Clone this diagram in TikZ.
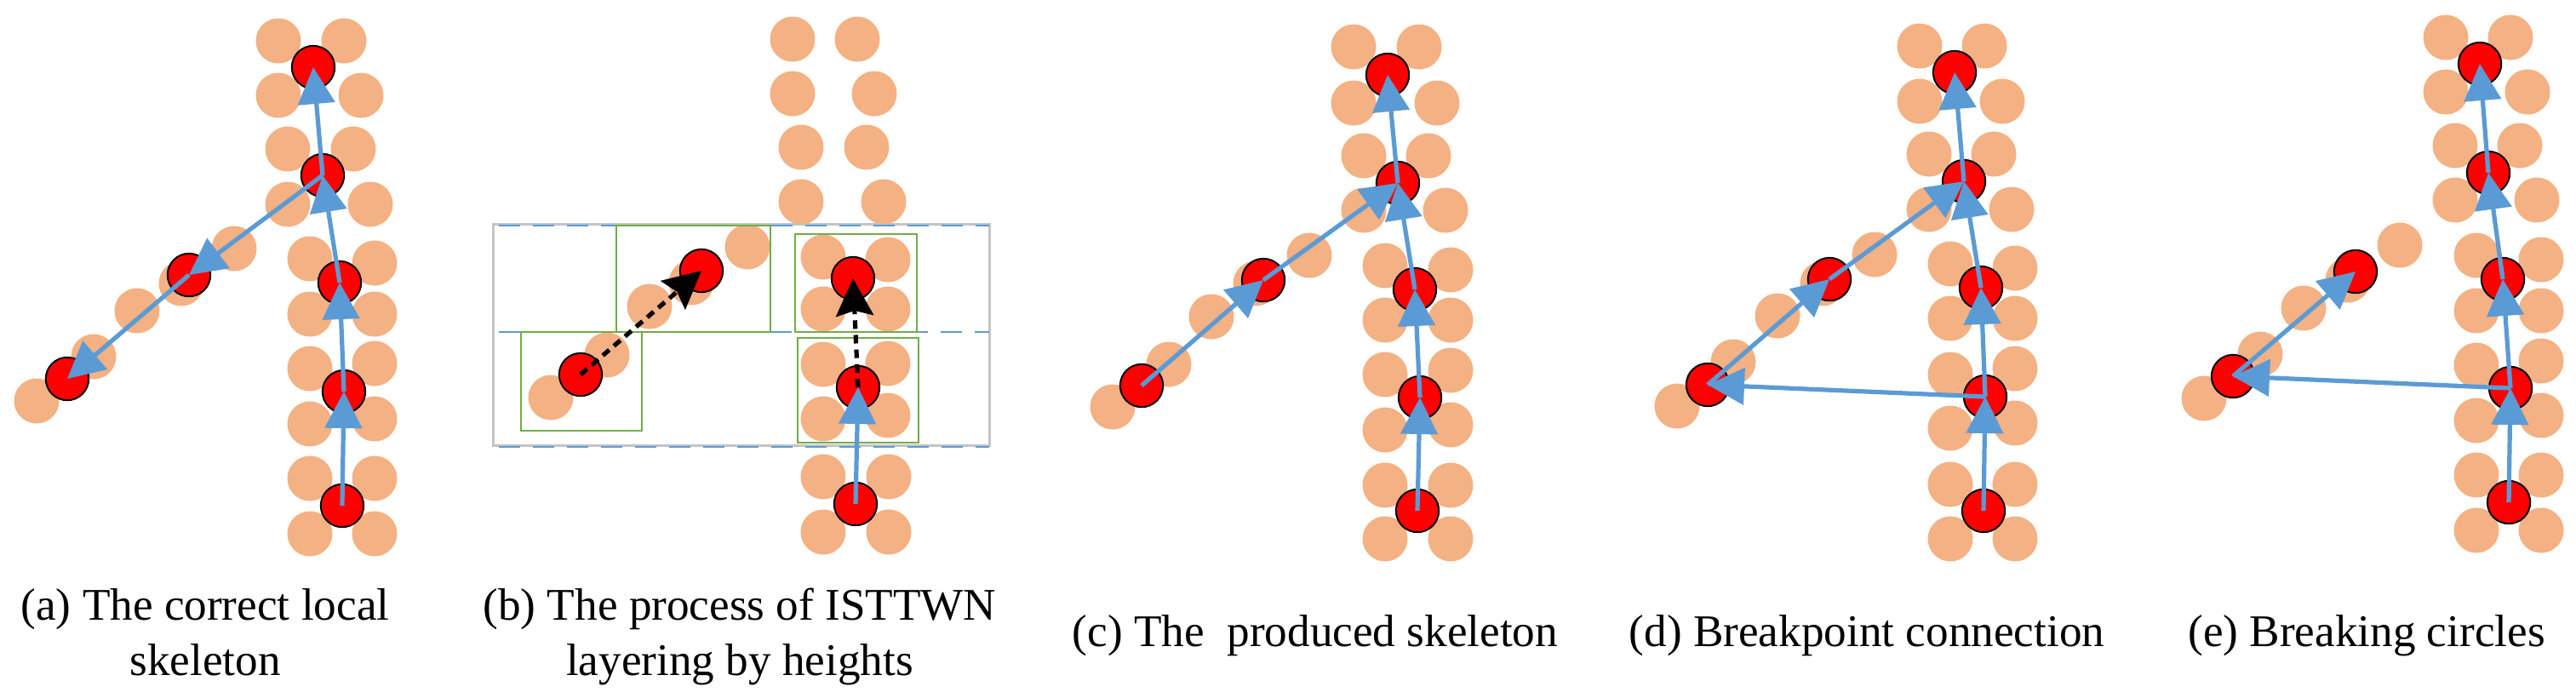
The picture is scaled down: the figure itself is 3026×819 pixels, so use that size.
\documentclass[tikz,border=0pt]{standalone}
\usepackage{fontspec}
\setmainfont{Liberation Serif}
\usetikzlibrary{arrows.meta}
\definecolor{dotorange}{HTML}{F4B183}
\definecolor{skblue}{HTML}{5B9BD5}
\definecolor{boxgreen}{HTML}{70AD47}
\definecolor{framegray}{HTML}{C4C4C4}
\begin{document}
\begin{tikzpicture}[x=0.25pt,y=-0.25pt,
  odot/.style={circle,fill=dotorange,minimum size=13.25pt,inner sep=0pt},
  rdot/.style={circle,fill=red,draw=black,line width=0.5pt,minimum size=12.6pt,inner sep=0pt},
  sk/.style={draw=skblue,line width=1.3pt,-{Triangle[length=10.75pt,width=10.75pt]}},
  blk/.style={draw=black,line width=1.3pt,dash pattern=on 2.5pt off 1.8pt,-{Stealth[length=11pt,width=11pt,inset=1.5pt]}},
  gbox/.style={draw=boxgreen,line width=0.65pt},
  layer/.style={draw=skblue,line width=0.65pt,dash pattern=on 6.25pt off 3.75pt},
  framebox/.style={draw=framegray,line width=0.75pt},
  captext/.style={anchor=base,inner sep=0pt,font=\fontsize{13.3}{16}\selectfont}
]
\useasboundingbox (0,0) rectangle (3026,819);

% ---------------- panel (a) ----------------
\foreach \x/\y [count=\i] in {327/48,404/48,327/112,424/112,338/175,415/175,338/240,435/240,
  364/304,440/309,364/369,440/369,364/433,440/427,364/498,440/492,364/562,440/562,364/627,440/627,
  275/292,213/333,161/365,110/419,43/471}
  {\node[odot] (ao\i) at (\x,\y) {};}
\node[rdot] (ar1) at (368,79) {};
\node[rdot] (ar2) at (379,206) {};
\node[rdot] (ar3) at (399,332) {};
\node[rdot] (ar4) at (404,460) {};
\node[rdot] (ar5) at (402,594) {};
\node[rdot] (ab1) at (222,323) {};
\node[rdot] (ab2) at (79,445) {};
\draw[sk] (ar5.center) -- (ar4.center);
\draw[sk] (ar4.center) -- (ar3.center);
\draw[sk] (ar3.center) -- (ar2.center);
\draw[sk] (ar2.center) -- (ar1.center);
\draw[sk] (ar2.center) -- (ab1.center);
\draw[sk] (ab1.center) -- (ab2.center);

% ---------------- panel (b) ----------------
\draw[framebox] (579,263) rectangle (1162,523);
\draw[layer] (586,265) -- (1162,265);
\draw[layer] (586,525) -- (1162,525);
\draw[draw=skblue,line width=0.65pt] (586,390) -- (724,390);
\draw[layer] (905,390) -- (1162,390);
\foreach \x/\y [count=\i] in {931/46,1007/46,931/110,1027/110,941/173,1018/173,941/237,1038/237,
  878/290,763/360,713/417,647/467,812/332,
  967/302,1043/305,967/363,1043/363,967/428,1043/427,967/492,1043/488,967/560,1044/560,967/625,1044/625}
  {\node[odot] (bo\i) at (\x,\y) {};}
\draw[gbox] (612,390) rectangle (754,506);
\draw[gbox] (724,265) rectangle (905,390);
\draw[gbox] (934,275) rectangle (1077,390);
\draw[gbox] (937,397) rectangle (1079,520);
\node[rdot] (br1) at (682,440) {};
\node[rdot] (br2) at (824,318) {};
\node[rdot] (br3) at (1002,327) {};
\node[rdot] (br4) at (1008,455) {};
\node[rdot] (br5) at (1005,592) {};
\draw[sk] (br5.center) -- (br4.center);
\draw[blk] (br1.center) -- (br2.center);
\draw[blk] (br4.center) -- (br3.center);

% ---------------- panel (c) ----------------
\foreach \x/\y [count=\i] in {1590/55,1667/55,1590/121,1688/121,1602/183,1678/183,1602/247,1698/247,
  1627/312,1704/317,1627/376,1704/376,1627/440,1704/435,1627/505,1704/499,1627/570,1704/570,1627/633,1704/633,
  1538/300,1475/333,1423/372,1373/428,1307/478}
  {\node[odot] (co\i) at (\x,\y) {};}
\node[rdot] (cr1) at (1630,88) {};
\node[rdot] (cr2) at (1642,215) {};
\node[rdot] (cr3) at (1662,340) {};
\node[rdot] (cr4) at (1668,467) {};
\node[rdot] (cr5) at (1665,600) {};
\node[rdot] (cb1) at (1484,329) {};
\node[rdot] (cb2) at (1341,453) {};
\draw[sk] (cr5.center) -- (cr4.center);
\draw[sk] (cr4.center) -- (cr3.center);
\draw[sk] (cr3.center) -- (cr2.center);
\draw[sk] (cr2.center) -- (cr1.center);
\draw[sk] (cb2.center) -- (cb1.center);
\draw[sk] (cb1.center) -- (cr2.center);

% ---------------- panel (d) ----------------
\foreach \x/\y [count=\i] in {2255/54,2331/54,2255/119,2352/119,2266/181,2342/181,2266/246,2363/246,
  2291/310,2367/315,2291/374,2367/374,2291/440,2367/433,2291/503,2367/497,2291/569,2367/569,2291/633,2367/633,
  2202/299,2141/333,2088/371,2036/425,1970/477}
  {\node[odot] (do\i) at (\x,\y) {};}
\node[rdot] (dr1) at (2296,85) {};
\node[rdot] (dr2) at (2307,213) {};
\node[rdot] (dr3) at (2327,338) {};
\node[rdot] (dr4) at (2332,466) {};
\node[rdot] (dr5) at (2330,600) {};
\node[rdot] (db1) at (2149,328) {};
\node[rdot] (db2) at (2006,452) {};
\draw[sk] (dr5.center) -- (dr4.center);
\draw[sk] (dr4.center) -- (dr3.center);
\draw[sk] (dr3.center) -- (dr2.center);
\draw[sk] (dr2.center) -- (dr1.center);
\draw[sk] (db2.center) -- (db1.center);
\draw[sk] (db1.center) -- (dr2.center);
\draw[sk] (dr4.center) -- (db2.center);

% ---------------- panel (e) ----------------
\foreach \x/\y [count=\i] in {2873/44,2949/44,2873/108,2969/108,2884/171,2960/171,2884/235,2980/235,
  2909/300,2985/305,2909/365,2985/365,2909/429,2985/424,2909/494,2985/488,2909/558,2985/558,2909/623,2985/623,
  2819/288,2758/329,2706/362,2655/416,2589/468}
  {\node[odot] (eo\i) at (\x,\y) {};}
\node[rdot] (er1) at (2913,75) {};
\node[rdot] (er2) at (2923,203) {};
\node[rdot] (er3) at (2940,328) {};
\node[rdot] (er4) at (2949,456) {};
\node[rdot] (er5) at (2947,590) {};
\node[rdot] (eb1) at (2767,319) {};
\node[rdot] (eb2) at (2623,442) {};
\draw[sk] (er5.center) -- (er4.center);
\draw[sk] (er4.center) -- (er3.center);
\draw[sk] (er3.center) -- (er2.center);
\draw[sk] (er2.center) -- (er1.center);
\draw[sk] (er4.center) -- (eb2.center);
\draw[sk] (eb2.center) -- (eb1.center);

% ---------------- captions ----------------
\node[captext] (capa1) at (241,728) {(a) The correct local};
\node[captext] (capa2) at (241,793) {skeleton};
\node[captext] (capb1) at (869,728) {(b) The process of ISTTWN};
\node[captext] (capb2) at (869,793) {layering by heights};
\node[captext] (capc) at (1545,759) {(c) The~ produced skeleton};
\node[captext] (capd) at (2193,759) {(d) Breakpoint connection};
\node[captext] (cape) at (2780,759) {(e) Breaking circles};
\end{tikzpicture}
\end{document}
